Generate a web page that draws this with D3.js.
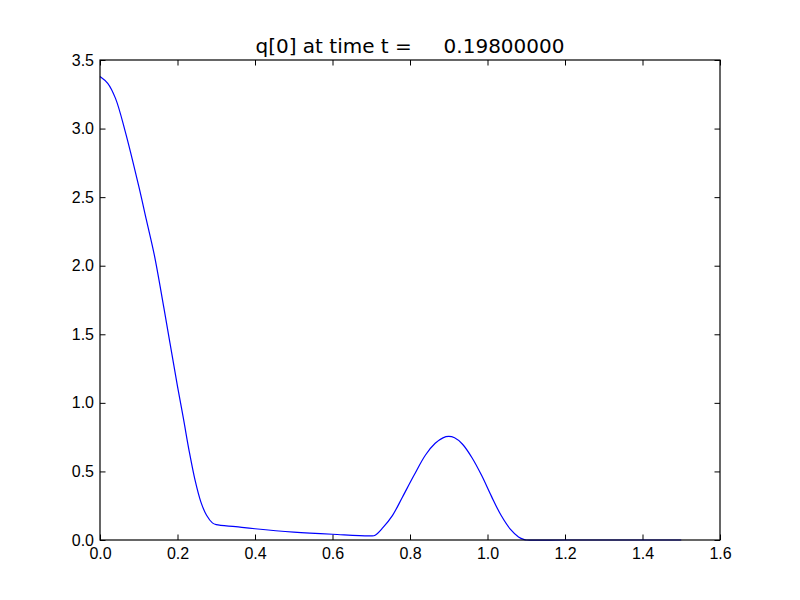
<!DOCTYPE html>
<html>
<head>
<meta charset="utf-8">
<script src="https://cdn.jsdelivr.net/npm/d3@7"></script>
<style>
  body { margin: 0; background: #fff; }
  svg { display: block; font-family: "DejaVu Sans", sans-serif; }
  .tick text { font-size: 16px; fill: #000; }
  .title { white-space: pre; }
</style>
</head>
<body>
<svg width="800" height="600"></svg>
<script>
// q[0] profile
const xValues = [0, 0.02, 0.04, 0.065, 0.1, 0.12, 0.14, 0.165, 0.2, 0.215, 0.23, 0.245, 0.26, 0.275, 0.29, 0.3,
                 0.35, 0.4, 0.5, 0.6, 0.7, 0.71, 0.73, 0.755, 0.78, 0.81, 0.84, 0.865, 0.885, 0.9, 0.915, 0.935,
                 0.96, 0.985, 1.01, 1.035, 1.06, 1.08, 1.095, 1.1, 1.2, 1.3, 1.4, 1.5];
const qValues = [3.38, 3.33, 3.22, 2.98, 2.58, 2.33, 2.08, 1.69, 1.12, 0.89, 0.65, 0.44, 0.28, 0.18, 0.125, 0.112,
                 0.097, 0.082, 0.058, 0.042, 0.03, 0.035, 0.09, 0.18, 0.31, 0.47, 0.62, 0.705, 0.745, 0.755, 0.745, 0.7,
                 0.6, 0.47, 0.32, 0.18, 0.075, 0.022, 0.003, 0, 0, 0, 0, 0];
const xTicks = [0, 0.2, 0.4, 0.6, 0.8, 1.0, 1.2, 1.4, 1.6];
const yTicks = [0, 0.5, 1.0, 1.5, 2.0, 2.5, 3.0, 3.5];
const titleText = "q[0] at time t =     0.19800000";

const svg = d3.select("svg");
const margin = {left: 100, top: 60, right: 80, bottom: 60};
const width = 800 - margin.left - margin.right, height = 600 - margin.top - margin.bottom;
const g = svg.append("g").attr("transform", "translate(" + margin.left + "," + margin.top + ")");

const x = d3.scaleLinear().domain([0, 1.6]).range([0, width]);
const y = d3.scaleLinear().domain([0, 3.5]).range([height, 0]);

// matplotlib style: ticks pointing in, on all four sides
function styleAxis(sel) {
  sel.select(".domain").remove();
  sel.selectAll(".tick line").attr("stroke", "#000").attr("stroke-width", 1);
}

g.append("g").attr("transform", "translate(0," + height + ")")
  .call(d3.axisBottom(x).tickValues(xTicks).tickFormat(d3.format(".1f")).tickSizeInner(-5.5).tickPadding(8))
  .call(styleAxis);
g.append("g")
  .call(d3.axisTop(x).tickValues(xTicks).tickFormat("").tickSizeInner(-5.5))
  .call(styleAxis);
g.append("g")
  .call(d3.axisLeft(y).tickValues(yTicks).tickFormat(d3.format(".1f")).tickSizeInner(-5.5).tickPadding(6))
  .call(styleAxis);
g.append("g").attr("transform", "translate(" + width + ",0)")
  .call(d3.axisRight(y).tickValues(yTicks).tickFormat("").tickSizeInner(-5.5))
  .call(styleAxis);

const line = d3.line()
  .x((d, i) => x(xValues[i]))
  .y(d => y(d))
  .curve(d3.curveCatmullRom.alpha(0.5));

g.append("path")
  .datum(qValues)
  .attr("fill", "none")
  .attr("stroke", "#0000ff")
  .attr("stroke-width", 1.2)
  .attr("d", line);

// frame
g.append("rect")
  .attr("width", width).attr("height", height)
  .attr("fill", "none").attr("stroke", "#000").attr("stroke-width", 1.2);

svg.append("text")
  .attr("class", "title")
  .attr("x", margin.left + width / 2)
  .attr("y", margin.top - 7)
  .attr("text-anchor", "middle")
  .attr("font-size", 20)
  .text(titleText);
</script>
</body>
</html>
